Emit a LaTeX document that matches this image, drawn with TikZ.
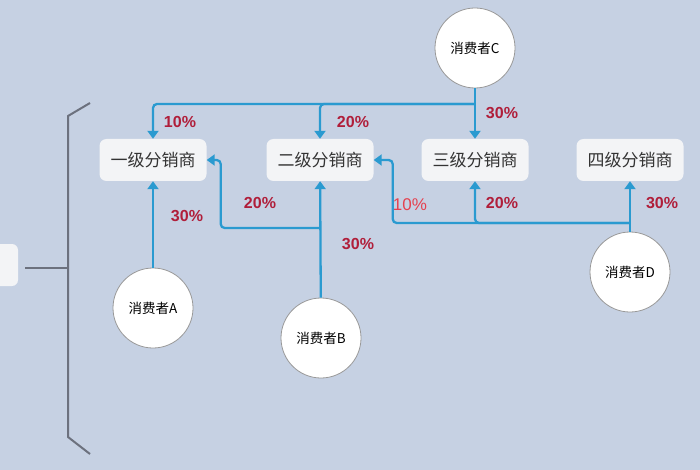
\documentclass[tikz,border=0pt]{standalone}
\usepackage{fontspec}
\setmainfont{Noto Sans CJK SC}
\newfontfamily\pctfont{Liberation Sans}
\usepackage{tikz}
\usetikzlibrary{arrows.meta}
\definecolor{bg}{HTML}{C6D1E3}
\definecolor{boxfill}{HTML}{F3F4F6}
\definecolor{linkblue}{HTML}{2A9AD0}
\definecolor{pctred}{HTML}{B01E3A}
\definecolor{pctlight}{HTML}{E5414F}
\definecolor{brk}{HTML}{6C717E}
\tikzset{
distbox/.style={fill=boxfill, rounded corners=7pt, minimum width=107pt, minimum height=42pt, inner sep=0pt, text=black!80, font=\fontsize{17}{17}\selectfont},
buyer/.style={draw=gray!80, fill=white, circle, minimum size=80pt, inner sep=0pt, line width=0.8pt, font=\fontsize{13.5}{14}\selectfont},
link/.style={draw=linkblue, line width=2.3pt, rounded corners=4pt, -{Triangle[length=8pt,width=11pt]}},
pct/.style={text=pctred, font=\pctfont\bfseries\fontsize{16}{16}\selectfont},
pctthin/.style={text=pctlight, font=\pctfont\fontsize{17}{17}\selectfont}
}

\begin{document}
\begin{tikzpicture}[x=1pt, y=-1pt]
    \useasboundingbox (0,0) rectangle (700,470);
    \fill[bg] (0,0) rectangle (700,470);
    % left part
    \fill[boxfill, rounded corners=6pt] (-10,244) rectangle (18,286);
    \draw[brk, line width=2pt] (25,268) -- (68,268);
    \draw[brk, line width=2pt] (90,103) -- (68,116) -- (68,437) -- (90,454);
    % distributors
    \foreach \i/\x/\name in {1/153/一级分销商, 2/320/二级分销商, 3/475/三级分销商, 4/630/四级分销商} {
      \node[distbox] (d\i) at (\x,160) {\name};
    }
    % consumers
    \node[buyer] (A) at (153,308) {消费者A};
    \node[buyer] (B) at (321,338) {消费者B};
    \node[buyer] (C) at (475,48) {消费者C};
    \node[buyer] (D) at (630,272) {消费者D};
    \coordinate (cj) at (475,104);
    \coordinate (bj) at (320,228);
    \coordinate (dj) at (630,223);
    % links
    \draw[link] (C) -- (d3);
    \draw[link] (cj) -| (d1.north);
    \draw[link] (cj) -| (d2.north);
    \draw[link] (A) -- (d1);
    \draw[link] (B) -- (d2);
    \draw[link] (bj) -| ([xshift=14pt]d1.east) -- (d1.east);
    \draw[link] (D) -- (d4);
    \draw[link] (dj) -| (d3.south);
    \draw[link] (dj) -| ([xshift=19pt]d2.east) -- (d2.east);
    % shares
    \node[pct] (p1) at (180,122) {10\%};
    \node[pct] (p2) at (353,122) {20\%};
    \node[pct] (p3) at (502,113) {30\%};
    \node[pct] (p4) at (187,216) {30\%};
    \node[pct] (p5) at (260,203) {20\%};
    \node[pct] (p6) at (358,244) {30\%};
    \node[pctthin] (p7) at (410,205) {10\%};
    \node[pct] (p8) at (502,203) {20\%};
    \node[pct] (p9) at (662,203) {30\%};
  \end{tikzpicture}
\end{document}
